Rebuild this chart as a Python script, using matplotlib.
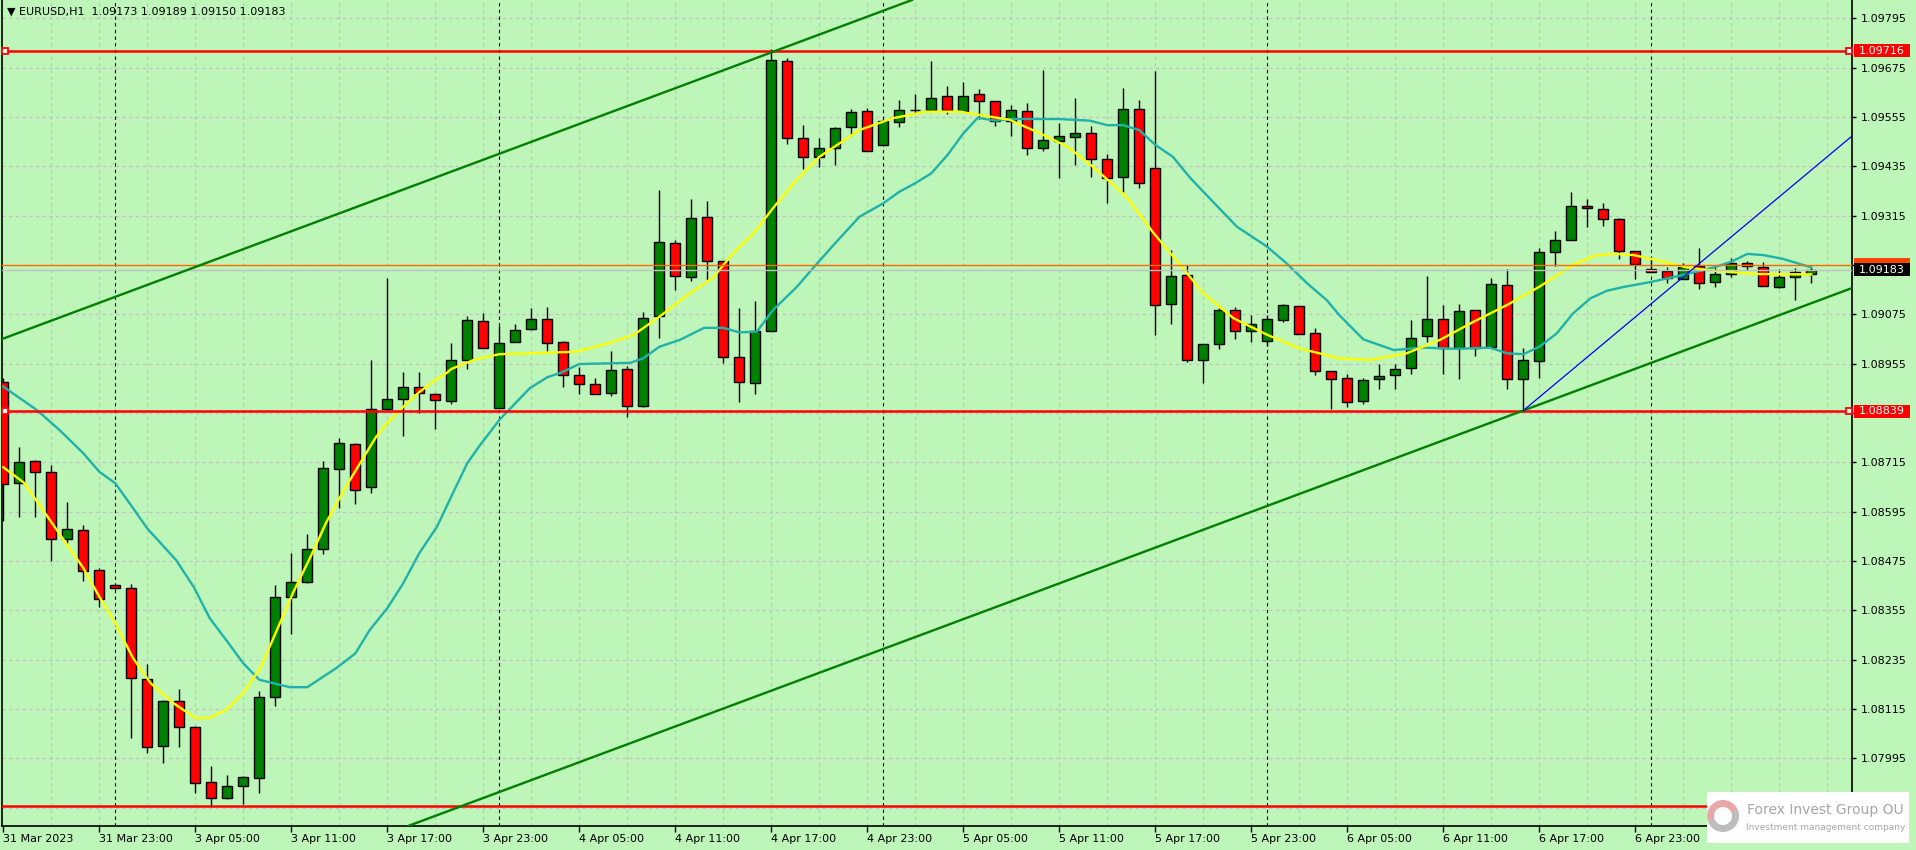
import matplotlib
matplotlib.use('Agg')
import matplotlib.pyplot as plt
import matplotlib.transforms as mtransforms
from matplotlib.patches import Rectangle, Wedge

plt.rcParams['font.family'] = ['DejaVu Sans']

# EURUSD H1, 31 Mar 2023 17:00 .. 7 Apr 2023 10:00
opens = [1.08911, 1.08665, 1.08717, 1.08691, 1.08528, 1.08550, 1.08452, 1.08416, 1.08409, 1.08187,
         1.08024, 1.08134, 1.08070, 1.07938, 1.07898, 1.07927, 1.07946, 1.08143, 1.08387, 1.08423,
         1.08503, 1.08698, 1.08759, 1.08654, 1.08844, 1.08868, 1.08897, 1.08880, 1.08863, 1.08963,
         1.09058, 1.08846, 1.09007, 1.09039, 1.09063, 1.09007, 1.08927, 1.08905, 1.08883, 1.08941,
         1.08851, 1.09070, 1.09248, 1.09165, 1.09311, 1.09204, 1.08970, 1.08907, 1.09034, 1.09690,
         1.09503, 1.09457, 1.09479, 1.09530, 1.09569, 1.09486, 1.09542, 1.09571, 1.09571, 1.09605,
         1.09569, 1.09610, 1.09593, 1.09544, 1.09569, 1.09479, 1.09496, 1.09506, 1.09515, 1.09452,
         1.09408, 1.09574, 1.09430, 1.09099, 1.09170, 1.08963, 1.09002, 1.09085, 1.09034, 1.09009,
         1.09060, 1.09094, 1.09029, 1.08936, 1.08919, 1.08863, 1.08917, 1.08927, 1.08944, 1.09021,
         1.09063, 1.08992, 1.09085, 1.08995, 1.09146, 1.08917, 1.08961, 1.09226, 1.09255, 1.09338,
         1.09330, 1.09306, 1.09228, 1.09184, 1.09180, 1.09160, 1.09192, 1.09153, 1.09172, 1.09199,
         1.09189, 1.09141, 1.09165, 1.09173]
highs = [1.08920, 1.08752, 1.08720, 1.08708, 1.08618, 1.08562, 1.08457, 1.08418, 1.08418, 1.08224,
         1.08137, 1.08164, 1.08074, 1.07976, 1.07954, 1.07952, 1.08159, 1.08417, 1.08495, 1.08541,
         1.08718, 1.08773, 1.08761, 1.08964, 1.09163, 1.08934, 1.08934, 1.08883, 1.09005, 1.09071,
         1.09077, 1.09047, 1.09051, 1.09090, 1.09093, 1.09009, 1.08946, 1.08919, 1.08985, 1.08949,
         1.09080, 1.09377, 1.09255, 1.09355, 1.09350, 1.09204, 1.09090, 1.09107, 1.09720, 1.09698,
         1.09535, 1.09503, 1.09530, 1.09574, 1.09576, 1.09549, 1.09596, 1.09610, 1.09690, 1.09630,
         1.09639, 1.09622, 1.09593, 1.09583, 1.09588, 1.09670, 1.09540, 1.09600, 1.09532, 1.09464,
         1.09625, 1.09596, 1.09666, 1.09231, 1.09194, 1.09002, 1.09090, 1.09092, 1.09073, 1.09073,
         1.09099, 1.09094, 1.09041, 1.08936, 1.08929, 1.08919, 1.08953, 1.08953, 1.09060, 1.09167,
         1.09097, 1.09099, 1.09085, 1.09163, 1.09184, 1.08992, 1.09236, 1.09277, 1.09372, 1.09355,
         1.09345, 1.09309, 1.09230, 1.09209, 1.09189, 1.09199, 1.09236, 1.09192, 1.09211, 1.09204,
         1.09202, 1.09184, 1.09187, 1.09189]
lows = [1.08571, 1.08583, 1.08583, 1.08476, 1.08518, 1.08426, 1.08364, 1.08406, 1.08044, 1.08009,
        1.07983, 1.08022, 1.07910, 1.07877, 1.07895, 1.07884, 1.07910, 1.08121, 1.08297, 1.08421,
        1.08491, 1.08603, 1.08613, 1.08640, 1.08838, 1.08780, 1.08834, 1.08795, 1.08856, 1.08942,
        1.08992, 1.08846, 1.09007, 1.09036, 1.08986, 1.08897, 1.08880, 1.08880, 1.08876, 1.08824,
        1.08849, 1.09017, 1.09133, 1.09155, 1.09158, 1.08956, 1.08862, 1.08880, 1.09034, 1.09489,
        1.09428, 1.09433, 1.09437, 1.09509, 1.09471, 1.09486, 1.09530, 1.09564, 1.09571, 1.09562,
        1.09569, 1.09549, 1.09532, 1.09508, 1.09462, 1.09471, 1.09406, 1.09437, 1.09408, 1.09345,
        1.09372, 1.09382, 1.09024, 1.09051, 1.08958, 1.08907, 1.08990, 1.09014, 1.09007, 1.08997,
        1.09056, 1.09026, 1.08927, 1.08844, 1.08849, 1.08856, 1.08893, 1.08893, 1.08929, 1.09007,
        1.08929, 1.08917, 1.08973, 1.08995, 1.08893, 1.08845, 1.08919, 1.09192, 1.09255, 1.09287,
        1.09289, 1.09209, 1.09162, 1.09177, 1.09150, 1.09160, 1.09136, 1.09141, 1.09165, 1.09182,
        1.09143, 1.09138, 1.09109, 1.09150]
closes = [1.08662, 1.08715, 1.08691, 1.08528, 1.08552, 1.08450, 1.08382, 1.08409, 1.08190, 1.08022,
          1.08134, 1.08070, 1.07934, 1.07898, 1.07927, 1.07949, 1.08143, 1.08387, 1.08423, 1.08503,
          1.08700, 1.08761, 1.08647, 1.08844, 1.08868, 1.08897, 1.08883, 1.08866, 1.08963, 1.09060,
          1.08992, 1.09004, 1.09036, 1.09063, 1.09004, 1.08927, 1.08905, 1.08880, 1.08939, 1.08851,
          1.09065, 1.09250, 1.09167, 1.09309, 1.09204, 1.08970, 1.08910, 1.09034, 1.09693, 1.09503,
          1.09457, 1.09479, 1.09527, 1.09566, 1.09471, 1.09544, 1.09571, 1.09572, 1.09600, 1.09571,
          1.09605, 1.09593, 1.09544, 1.09571, 1.09479, 1.09498, 1.09508, 1.09515, 1.09452, 1.09406,
          1.09574, 1.09394, 1.09097, 1.09167, 1.08963, 1.09002, 1.09085, 1.09034, 1.09051, 1.09063,
          1.09097, 1.09026, 1.08936, 1.08917, 1.08861, 1.08915, 1.08924, 1.08941, 1.09017, 1.09063,
          1.08992, 1.09082, 1.08992, 1.09148, 1.08917, 1.08963, 1.09226, 1.09255, 1.09338, 1.09333,
          1.09306, 1.09228, 1.09197, 1.09177, 1.09163, 1.09189, 1.09150, 1.09172, 1.09199, 1.09192,
          1.09143, 1.09165, 1.09177, 1.09183]

# moving averages (bar position, price)
ma_fast_x = [0, 1.3, 2.9, 5, 6, 7, 8.1, 9.2, 10.6, 12, 12.9, 14, 15, 16.1, 17.1, 18.1, 19.2, 20.2,
             21.3, 22.3, 23.3, 24, 25, 26, 27, 27.7, 28, 29.4, 31, 32.9, 35.8, 37.7, 39.4, 41, 42.7,
             44.4, 45.6, 46.9, 48.1, 49.4, 51, 53.5, 55.6, 57.7, 59.8, 61, 62.9, 64.8, 66.5, 68.1,
             70.2, 71.9, 73.3, 75, 76.9, 79, 81, 83.5, 85.4, 87.7, 89.8, 91.9, 94, 96, 98.1, 99.4,
             100.6, 101.9, 103.5, 105.2, 106.9, 109.6, 113]
ma_fast = [1.08703, 1.08665, 1.08575, 1.08458, 1.08388, 1.08324, 1.08239, 1.08178, 1.08130, 1.08093,
           1.08093, 1.08115, 1.08154, 1.08217, 1.08307, 1.08397, 1.08485, 1.08570, 1.08648, 1.08713,
           1.08777, 1.08811, 1.08850, 1.08886, 1.08915, 1.08932, 1.08942, 1.08964, 1.08978, 1.08980,
           1.08984, 1.09003, 1.09025, 1.09069, 1.09120, 1.09166, 1.09223, 1.09272, 1.09333, 1.09394,
           1.09458, 1.09523, 1.09552, 1.09568, 1.09568, 1.09560, 1.09548, 1.09515, 1.09483, 1.09434,
           1.09361, 1.09272, 1.09207, 1.09126, 1.09065, 1.09025, 1.08992, 1.08968, 1.08964, 1.08980,
           1.09013, 1.09057, 1.09098, 1.09142, 1.09195, 1.09217, 1.09222, 1.09219, 1.09205, 1.09189,
           1.09181, 1.09173, 1.09172]
ma_slow_x = [0, 2.1, 3.5, 5, 6, 7, 7.9, 9, 10.8, 11.9, 12.9, 14, 15, 16, 17.9, 19, 20.8, 22, 22.9,
             24, 25, 26, 27.1, 28.1, 29, 29.8, 31, 32.9, 34, 34.8, 36, 39.2, 40, 41, 42.3, 43.8, 45,
             46, 47.1, 48.1, 49.6, 50.6, 51.9, 53.5, 55, 56, 57, 58, 59, 60, 60.9, 62, 63.1, 66,
             67.9, 69, 70, 71, 72, 73.1, 74.2, 75.2, 77.1, 79, 80.2, 81.5, 82.7, 83.5, 85, 86.9,
             88.7, 90.8, 92.9, 94, 95, 96, 97.1, 98.1, 99.2, 100.2, 101.2, 102.9, 105, 106.9, 108,
             109, 110, 111.2, 113]
ma_slow = [1.08899, 1.08842, 1.08794, 1.08737, 1.08692, 1.08664, 1.08615, 1.08554, 1.08477, 1.08412,
           1.08336, 1.08279, 1.08226, 1.08186, 1.08168, 1.08168, 1.08214, 1.08250, 1.08307, 1.08360,
           1.08421, 1.08494, 1.08558, 1.08640, 1.08713, 1.08757, 1.08818, 1.08895, 1.08922, 1.08932,
           1.08954, 1.08957, 1.08968, 1.08996, 1.09013, 1.09042, 1.09042, 1.09031, 1.09033, 1.09085,
           1.09142, 1.09187, 1.09244, 1.09312, 1.09345, 1.09373, 1.09394, 1.09418, 1.09462, 1.09515,
           1.09553, 1.09546, 1.09550, 1.09550, 1.09546, 1.09535, 1.09535, 1.09523, 1.09487, 1.09458,
           1.09406, 1.09365, 1.09288, 1.09239, 1.09199, 1.09150, 1.09110, 1.09073, 1.09014, 1.08988,
           1.08994, 1.08991, 1.08994, 1.08980, 1.08978, 1.08996, 1.09029, 1.09077, 1.09114, 1.09132,
           1.09141, 1.09153, 1.09171, 1.09189, 1.09203, 1.09222, 1.09219, 1.09210, 1.09189]

levels = [1.09716, 1.08839, 1.07880]
bid = 1.09183
ask = 1.09196
channel_upper = [(0, 1.09016), (48, 1.09712)]
channel_lower = [(47, 1.08145), (95, 1.08841)]
ray_start = (95, 1.08841)
ray_slope = 0.000325

day_starts = [7, 31, 55, 79, 103]
tick_labels = ['31 Mar 2023', '31 Mar 23:00', '3 Apr 05:00', '3 Apr 11:00', '3 Apr 17:00',
               '3 Apr 23:00', '4 Apr 05:00', '4 Apr 11:00', '4 Apr 17:00', '4 Apr 23:00',
               '5 Apr 05:00', '5 Apr 11:00', '5 Apr 17:00', '5 Apr 23:00', '6 Apr 05:00',
               '6 Apr 11:00', '6 Apr 17:00', '6 Apr 23:00', '']  # 7 Apr 05:00 sits under the logo
price_ticks = [1.07875 + 0.0012 * k for k in range(17)]
hidden_ticks = [0, 8, 11]  # covered by the logo and the price tags

BG = '#BEF5B9'
GRID = '#C8BCC8'
W, H = 1916, 850

fig = plt.figure(figsize=(W / 100, H / 100), dpi=100, facecolor=BG)
ax = fig.add_axes([2 / W, 24 / H, 1850 / W, 826 / H], facecolor=BG)
ax.set_xlim(-0.081, 115.54)
ax.set_ylim(1.078303, 1.098395)

# grid
for k in range(3, 116, 3):
    ax.axvline(k, color=GRID, lw=0.8, ls=(0, (3, 3)), zorder=0)
for p in price_ticks:
    ax.axhline(p, color=GRID, lw=0.8, ls=(0, (3, 3)), zorder=0)
for d in day_starts:
    ax.axvline(d, color='black', lw=0.8, ls=(0, (3, 3)), zorder=0.5)

# candles
n = len(opens)
xs = list(range(n))
ax.vlines(xs, lows, highs, color='black', lw=1, zorder=2)
bottoms = [min(o, c) for o, c in zip(opens, closes)]
heights = [max(abs(c - o), 0.000005) for o, c in zip(opens, closes)]
colors = ['#008000' if c >= o else '#FF0000' for o, c in zip(opens, closes)]
ax.bar(xs, heights, bottom=bottoms, width=0.62, color=colors, edgecolor='black',
       linewidth=1, zorder=3)

# moving averages
ax.plot(ma_slow_x, ma_slow, color='#20B2AA', lw=1.7, zorder=4)
ax.plot(ma_fast_x, ma_fast, color='#FFFF00', lw=1.7, zorder=4)

# price lines
ax.axhline(bid, color='#C0C0C0', lw=1, zorder=4)
ax.axhline(ask, color='#FF6A00', lw=1, zorder=4)
for lv in levels:
    ax.axhline(lv, color='#FF0000', lw=1.8, zorder=5)
blend = mtransforms.blended_transform_factory(ax.transAxes, ax.transData)
for lv in levels[:2]:
    ax.plot([0.0017, 0.9983], [lv, lv], transform=blend, ls='none', marker='s', ms=4,
            mfc='white', mec='#FF0000', mew=1.3, zorder=6, clip_on=False)

# trend lines
ax.axline(*channel_upper, color='#008000', lw=1.7, zorder=5)
ax.axline(*channel_lower, color='#008000', lw=1.7, zorder=5)
x_end = ax.get_xlim()[1]
ax.plot([ray_start[0], x_end], [ray_start[1], ray_start[1] + ray_slope * (x_end - ray_start[0])],
        color='#0000FF', lw=0.9, zorder=5)

# axes styling
ax.spines['top'].set_visible(False)
for s in ['left', 'right', 'bottom']:
    ax.spines[s].set_color('black')
    ax.spines[s].set_linewidth(1.2)
ax.yaxis.tick_right()
ax.set_yticks(price_ticks)
ax.set_yticklabels(['' if i in hidden_ticks else '%.5f' % p for i, p in enumerate(price_ticks)])
ax.set_xticks(list(range(0, 6 * len(tick_labels), 6)))
ax.set_xticklabels(tick_labels)
for lab in ax.get_xticklabels():
    lab.set_ha('left')
ax.tick_params(axis='x', direction='out', length=4, width=1, pad=2, labelsize=8, colors='black')
ax.tick_params(axis='y', direction='out', length=3, width=1, pad=3, labelsize=8, colors='black')

# right-side price labels (boxes 56 x 13 px)
box_w = 56 / 1850
box_h = 13 / 41111
box_x = 1.0011


def price_tag(price, face, z, text=None):
    ax.add_patch(Rectangle((box_x, price - box_h / 2), box_w, box_h, transform=blend,
                           fc=face, ec='none', zorder=z, clip_on=False))
    if text:
        ax.text(box_x + box_w / 2, price, text, transform=blend, ha='center', va='center',
                fontsize=8, color='white', zorder=z + 0.1, clip_on=False)


for lv in levels[:2]:
    price_tag(lv, '#FF0000', 7, '%.5f' % lv)
price_tag(ask, '#FF4500', 7)
price_tag(bid, 'black', 8, '%.5f' % bid)

# header
fig.text(7 / W, 1 - 12 / H, '\u25BC EURUSD,H1  %.5f %.5f %.5f %.5f' % (opens[-1], highs[-1], lows[-1], closes[-1]),
         ha='left', va='center', fontsize=8, color='black')

# logo
px = mtransforms.IdentityTransform()
fig.add_artist(Rectangle((1707, H - 843), 202, 51, transform=px, fc='white', ec='none', zorder=20))
fig.add_artist(Wedge((1723, H - 816), 16, 20, 200, width=7, transform=px, fc='#E9A8A8', ec='none', zorder=21))
fig.add_artist(Wedge((1723, H - 816), 16, 200, 380, width=7, transform=px, fc='#BDBDBD', ec='none', zorder=21))
fig.text(1747 / W, 1 - 810 / H, 'Forex Invest Group OU', ha='left', va='center', fontsize=10,
         color='#A6A6A6', zorder=22)
fig.text(1905 / W, 1 - 827 / H, 'Investment management company', ha='right', va='center',
         fontsize=6.5, color='#A6A6A6', zorder=22)

fig.savefig('out.png', dpi=100, facecolor=BG)
